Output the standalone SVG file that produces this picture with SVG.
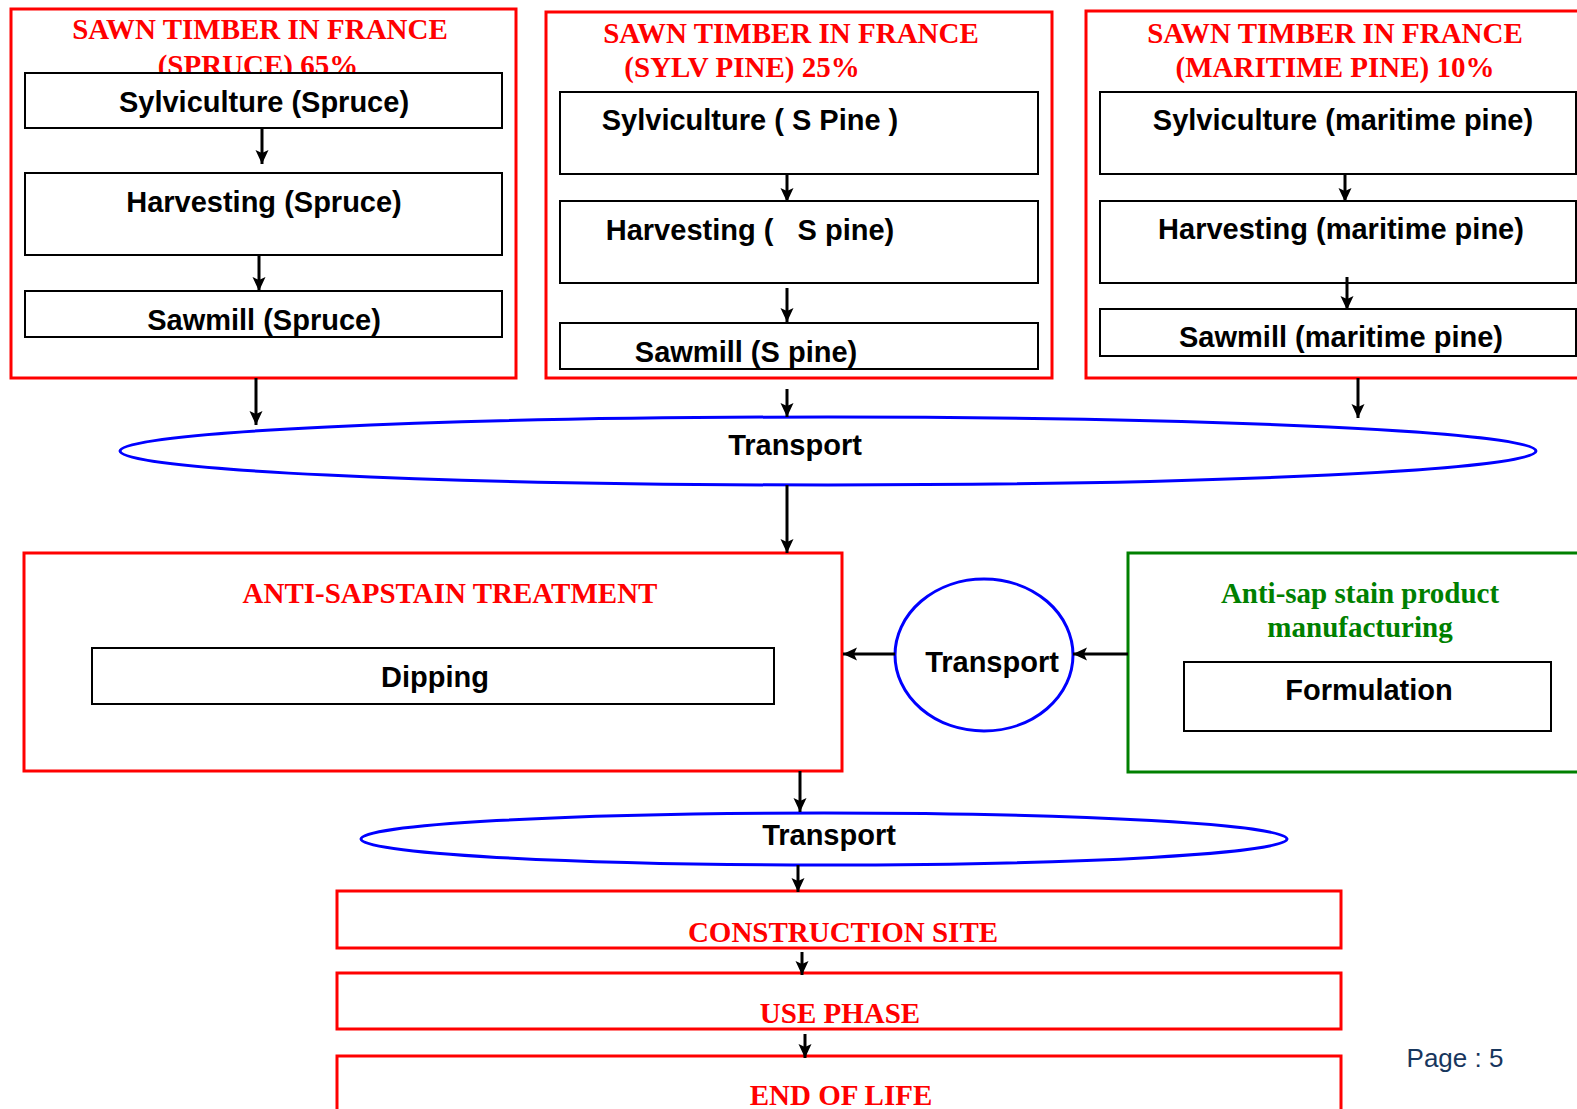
<svg xmlns="http://www.w3.org/2000/svg" width="1577" height="1109" viewBox="0 0 1577 1109">
<style>
.red{fill:none;stroke:#FF0000;stroke-width:3}
.grn{fill:none;stroke:#008000;stroke-width:3}
.box{fill:#FFFFFF;stroke:#000000;stroke-width:2}
.ell{fill:#FFFFFF;stroke:#0000FF;stroke-width:3}
.ttl{font-family:"Liberation Serif","Times New Roman",serif;font-weight:bold;font-size:29px;fill:#FF0000;text-anchor:middle}
.gtl{font-family:"Liberation Serif","Times New Roman",serif;font-weight:bold;font-size:29px;fill:#008000;text-anchor:middle}
.lbl{font-family:"Liberation Sans",Arial,sans-serif;font-weight:bold;font-size:29px;fill:#000000;text-anchor:middle}
.pg{font-family:"Liberation Sans",Arial,sans-serif;font-size:26px;fill:#17365D;text-anchor:middle}
.con{fill:none;stroke:#000000;stroke-width:3;marker-end:url(#ah)}
</style>
<defs>
<marker id="ah" markerUnits="userSpaceOnUse" markerWidth="14" markerHeight="14" refX="14" refY="7" orient="auto">
<path d="M0,0.5 L14,7 L0,13.5 L3,7 Z" fill="#000000"/>
</marker>
</defs>
<rect width="1577" height="1109" fill="#FFFFFF"/>

<g id="spruce">
<rect class="red" x="11" y="9" width="505" height="369"/>
<text class="ttl" x="260" y="39">SAWN TIMBER IN FRANCE</text>
<text class="ttl" x="258" y="75">(SPRUCE) 65%</text>
<g id="spruce-sylv"><rect class="box" x="25" y="73" width="477" height="55"/><text class="lbl" x="264" y="112">Sylviculture (Spruce)</text></g>
<g id="spruce-harv"><rect class="box" x="25" y="173" width="477" height="82"/><text class="lbl" x="264" y="212">Harvesting (Spruce)</text></g>
<g id="spruce-saw"><rect class="box" x="25" y="291" width="477" height="46"/><text class="lbl" x="264" y="330">Sawmill (Spruce)</text></g>
</g>

<g id="spine">
<rect class="red" x="546" y="12" width="506" height="366"/>
<text class="ttl" x="791" y="43">SAWN TIMBER IN FRANCE</text>
<text class="ttl" x="742" y="77">(SYLV PINE) 25%</text>
<g id="spine-sylv"><rect class="box" x="560" y="92" width="478" height="82"/><text class="lbl" x="750" y="130">Sylviculture ( S Pine )</text></g>
<g id="spine-harv"><rect class="box" x="560" y="201" width="478" height="82"/><text class="lbl" x="750" y="240" xml:space="preserve">Harvesting (   S pine)</text></g>
<g id="spine-saw"><rect class="box" x="560" y="323" width="478" height="46"/><text class="lbl" x="746" y="362">Sawmill (S pine)</text></g>
</g>

<g id="mpine">
<rect class="red" x="1086" y="11" width="510" height="367"/>
<text class="ttl" x="1335" y="43">SAWN TIMBER IN FRANCE</text>
<text class="ttl" x="1335" y="77">(MARITIME PINE) 10%</text>
<g id="mpine-sylv"><rect class="box" x="1100" y="92" width="476" height="82"/><text class="lbl" x="1343" y="130">Sylviculture (maritime pine)</text></g>
<g id="mpine-harv"><rect class="box" x="1100" y="201" width="476" height="82"/><text class="lbl" x="1341" y="239">Harvesting (maritime pine)</text></g>
<g id="mpine-saw"><rect class="box" x="1100" y="309" width="476" height="47"/><text class="lbl" x="1341" y="347">Sawmill (maritime pine)</text></g>
</g>

<g id="transport1">
<ellipse class="ell" cx="828" cy="451" rx="708" ry="34"/>
<text class="lbl" x="795" y="455">Transport</text>
</g>

<g id="treatment">
<rect class="red" x="24" y="553" width="818" height="218"/>
<text class="ttl" x="450" y="603">ANTI-SAPSTAIN TREATMENT</text>
<g id="dipping"><rect class="box" x="92" y="648" width="682" height="56"/><text class="lbl" x="435" y="687">Dipping</text></g>
</g>

<g id="transport2">
<ellipse class="ell" cx="984" cy="655" rx="89" ry="76"/>
<text class="lbl" x="992" y="672">Transport</text>
</g>

<g id="manufacturing">
<rect class="grn" x="1128" y="553" width="470" height="219"/>
<text class="gtl" x="1360" y="603">Anti-sap stain product</text>
<text class="gtl" x="1360" y="637">manufacturing</text>
<g id="formulation"><rect class="box" x="1184" y="662" width="367" height="69"/><text class="lbl" x="1369" y="700">Formulation</text></g>
</g>

<g id="transport3">
<ellipse class="ell" cx="824" cy="839" rx="463" ry="26"/>
<text class="lbl" x="829" y="845">Transport</text>
</g>

<g id="construction">
<rect class="red" x="337" y="891" width="1004" height="57"/>
<text class="ttl" x="843" y="942">CONSTRUCTION SITE</text>
</g>

<g id="use">
<rect class="red" x="337" y="973" width="1004" height="56"/>
<text class="ttl" x="840" y="1023">USE PHASE</text>
</g>

<g id="eol">
<rect class="red" x="337" y="1056" width="1004" height="80"/>
<text class="ttl" x="841" y="1105">END OF LIFE</text>
</g>

<text class="pg" x="1455" y="1067">Page : 5</text>

<g id="connectors">
<line class="con" x1="262" y1="129" x2="262" y2="164"/>
<line class="con" x1="259" y1="255" x2="259" y2="291"/>
<line class="con" x1="787" y1="174" x2="787" y2="202"/>
<line class="con" x1="787" y1="288" x2="787" y2="322"/>
<line class="con" x1="1345" y1="174" x2="1345" y2="202"/>
<line class="con" x1="1347" y1="277" x2="1347" y2="310"/>
<line class="con" x1="256" y1="378" x2="256" y2="425"/>
<line class="con" x1="787" y1="389" x2="787" y2="417"/>
<line class="con" x1="1358" y1="378" x2="1358" y2="418"/>
<line class="con" x1="787" y1="485" x2="787" y2="553"/>
<line class="con" x1="895" y1="654" x2="843" y2="654"/>
<line class="con" x1="1128" y1="654" x2="1073" y2="654"/>
<line class="con" x1="800" y1="771" x2="800" y2="812"/>
<line class="con" x1="798" y1="865" x2="798" y2="892"/>
<line class="con" x1="802" y1="952" x2="802" y2="975"/>
<line class="con" x1="805" y1="1034" x2="805" y2="1058"/>
</g>
</svg>
